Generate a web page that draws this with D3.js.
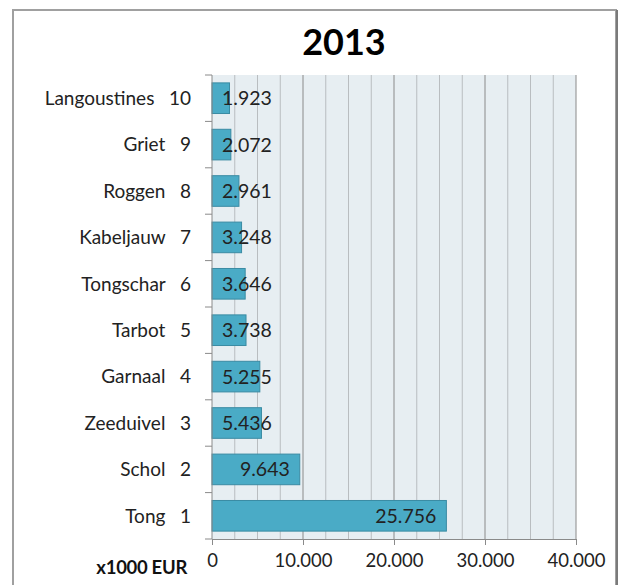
<!DOCTYPE html>
<html><head><meta charset="utf-8">
<script src="https://cdn.jsdelivr.net/npm/d3@7"></script>
<style>body{margin:0;background:#fff;} text{font-family:Lato,"Open Sans",sans-serif;}</style>
</head><body>
<script>
const title = "2013";
const categories = ["Langoustines", "Griet", "Roggen", "Kabeljauw", "Tongschar", "Tarbot", "Garnaal", "Zeeduivel", "Schol", "Tong"];
const ranks = [10, 9, 8, 7, 6, 5, 4, 3, 2, 1];
const values = [1923, 2072, 2961, 3248, 3646, 3738, 5255, 5436, 9643, 25756];
const xTicks = [0, 10000, 20000, 30000, 40000];
const unitLabel = "x1000 EUR";

const W = 620, H = 585;
const svg = d3.select("body").append("svg").attr("width", W).attr("height", H);

const fmt = v => d3.format(",")(v).replace(/,/g, ".");
const plot = {left: 212, right: 576, top: 75, bottom: 539};

// outer frame
svg.append("rect").attr("x", 13).attr("y", 10).attr("width", 603).attr("height", H)
  .attr("fill", "#fff").attr("stroke", "#a0a0a0").attr("stroke-width", 2);
svg.append("line").attr("x1", 617).attr("x2", 617).attr("y1", 10).attr("y2", H)
  .attr("stroke", "#7a7a7a").attr("stroke-width", 2);

const x = d3.scaleLinear().domain([0, 40000]).range([plot.left, plot.right]);
const y = d3.scaleBand().domain(categories).range([plot.top, plot.bottom]).paddingInner(0.34).paddingOuter(0.17);

svg.append("rect").attr("x", plot.left).attr("y", plot.top)
  .attr("width", plot.right - plot.left).attr("height", plot.bottom - plot.top).attr("fill", "#e7eef2");

// minor gridlines
svg.append("g").selectAll("line").data(d3.range(2500, 40001, 2500).filter(v => v % 10000 !== 0))
  .join("line").attr("x1", d => x(d)).attr("x2", d => x(d)).attr("y1", plot.top).attr("y2", plot.bottom)
  .attr("stroke", "#b9bdc0").attr("stroke-width", 1);
// major gridlines
svg.append("g").selectAll("line").data(xTicks.filter(v => v > 0))
  .join("line").attr("x1", d => x(d)).attr("x2", d => x(d)).attr("y1", plot.top).attr("y2", plot.bottom)
  .attr("stroke", "#8a8a8a").attr("stroke-width", 1);

// bars
svg.append("g").selectAll("rect").data(values).join("rect")
  .attr("x", x(0)).attr("y", (d, i) => y(categories[i]))
  .attr("width", d => x(d) - x(0)).attr("height", y.bandwidth())
  .attr("fill", "#4aabc6").attr("stroke", "#3a8ba3").attr("stroke-width", 1);

// value labels
const lbl = svg.append("g").selectAll("text").data(values).join("text")
  .attr("y", (d, i) => y(categories[i]) + y.bandwidth() / 2)
  .attr("dy", "0.36em").attr("font-size", 19.5).attr("fill", "#222")
  .attr("text-anchor", "end").text(d => fmt(d));
lbl.each(function(d) {
  const w = this.getComputedTextLength();
  const r = Math.max(x(d) - 10, x(0) + 10 + w);
  d3.select(this).attr("x", r);
});

// bottom axis
const xAxis = d3.axisBottom(x).tickValues(xTicks).tickSize(6).tickFormat(fmt);
const gx = svg.append("g").attr("transform", `translate(0,${plot.bottom})`).call(xAxis);
gx.select(".domain").attr("stroke", "#8a8a8a").attr("d", `M${plot.left},0.5H${plot.right}`);
gx.selectAll(".tick line").attr("stroke", "#8a8a8a");
gx.selectAll(".tick text").attr("font-size", 18.5).attr("fill", "#222").attr("dy", "1.0em")
  .style("font-family", "Lato, sans-serif");

// left axis
const yAxis = d3.scaleLinear().domain([0, 10]).range([plot.bottom, plot.top]);
const gy = svg.append("g");
gy.append("line").attr("x1", plot.left).attr("x2", plot.left).attr("y1", plot.top).attr("y2", plot.bottom)
  .attr("stroke", "#8a8a8a");
gy.selectAll("line.t").data(d3.range(0, 11)).join("line").attr("class", "t")
  .attr("x1", plot.left - 7).attr("x2", plot.left).attr("y1", d => yAxis(d)).attr("y2", d => yAxis(d))
  .attr("stroke", "#8a8a8a");

// category labels
svg.append("g").selectAll("text").data(categories).join("text")
  .attr("x", 191).attr("y", d => y(d) + y.bandwidth() / 2).attr("dy", "0.36em")
  .attr("text-anchor", "end").attr("font-size", 19).attr("fill", "#222")
  .style("white-space", "pre")
  .text((d, i) => d + "\u00A0\u00A0\u00A0" + ranks[i]);

svg.append("text").attr("x", 187).attr("y", plot.bottom + 28).attr("dy", "0.36em")
  .attr("text-anchor", "end").attr("font-size", 18.5).attr("font-weight", "bold").attr("fill", "#111")
  .style("letter-spacing", "-0.3px")
  .text(unitLabel);

svg.append("text").attr("x", 344).attr("y", 42).attr("dy", "0.36em")
  .attr("text-anchor", "middle").attr("font-size", 36).attr("font-weight", "bold").attr("fill", "#000")
  .text(title);
</script>
</body></html>
